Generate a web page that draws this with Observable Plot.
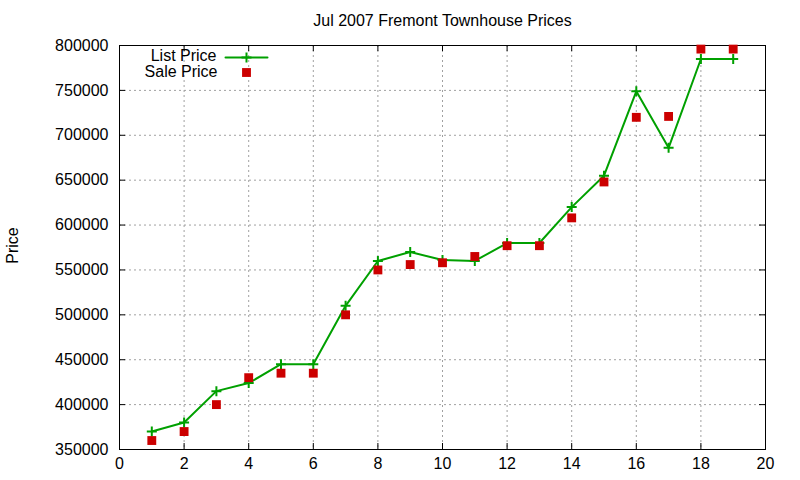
<!DOCTYPE html>
<html>
<head>
<meta charset="utf-8">
<script src="https://cdn.jsdelivr.net/npm/d3@7"></script>
<script src="https://cdn.jsdelivr.net/npm/@observablehq/plot@0.6"></script>
<style>
  html, body { margin: 0; padding: 0; background: #fff; }
  #chart svg { display: block; }
</style>
</head>
<body>
<div id="chart"></div>
<script>
const title = "Jul 2007 Fremont Townhouse Prices";
const yLabel = "Price";
const houseIndex = [1, 2, 3, 4, 5, 6, 7, 8, 9, 10, 11, 12, 13, 14, 15, 16, 17, 18, 19];
const listPrice = [370000, 380000, 415000, 424000, 445000, 445000, 510000, 560000, 570000, 561000, 560000, 580000, 580000, 620000, 655000, 749000, 686000, 785000, 785000];
const salePrice = [360000, 370000, 400000, 430000, 435000, 435000, 500000, 550000, 556000, 558000, 565000, 577000, 577000, 608000, 648000, 720000, 721000, 796000, 796000];
const xTicks = [0, 2, 4, 6, 8, 10, 12, 14, 16, 18, 20];
const yTicks = [350000, 400000, 450000, 500000, 550000, 600000, 650000, 700000, 750000, 800000];
const seriesNames = ["List Price", "Sale Price"];

const listData = houseIndex.map((x, i) => ({x, y: listPrice[i]}));
const saleData = houseIndex.map((x, i) => ({x, y: salePrice[i]}));

const green = "#00a000";
const red = "#cc0000";
const font = "'Liberation Sans', Arial, sans-serif";

const crossSymbol = {
  draw(ctx, size) {
    const r = Math.sqrt(size / Math.PI);
    ctx.moveTo(-r, 0); ctx.lineTo(r, 0);
    ctx.moveTo(0, -r); ctx.lineTo(0, r);
  }
};
const segShape = {
  draw(ctx, l) { ctx.moveTo(0, 0); ctx.lineTo(0, -l); }
};

const W = 800, H = 480, mL = 119, mR = 35, mT = 45, mB = 31;
const fw = W - mL - mR, fh = H - mT - mB;
const tk = 6;

const chart = Plot.plot({
  width: W,
  height: H,
  marginLeft: mL,
  marginRight: mR,
  marginTop: mT,
  marginBottom: mB,
  style: {fontFamily: font, fontSize: "16px", color: "#000", background: "#fff"},
  x: {domain: [0, 20]},
  y: {domain: [350000, 800000]},
  marks: [
    Plot.gridX(xTicks, {stroke: "#a0a0a0", strokeOpacity: 1, strokeDasharray: "2,3"}),
    Plot.gridY(yTicks, {stroke: "#a0a0a0", strokeOpacity: 1, strokeDasharray: "2,3"}),
    // inward tick marks on all four sides
    Plot.tickY(yTicks, {y: d => d, stroke: "#000", insetRight: fw - tk}),
    Plot.tickY(yTicks, {y: d => d, stroke: "#000", insetLeft: fw - tk}),
    Plot.tickX(xTicks, {x: d => d, stroke: "#000", insetTop: fh - tk}),
    Plot.tickX(xTicks, {x: d => d, stroke: "#000", insetBottom: fh - tk}),
    Plot.axisX(xTicks, {tickSize: 0, tickPadding: 8, label: null, fontSize: 16}),
    Plot.axisY(yTicks, {tickSize: 0, tickPadding: 11, label: null, tickFormat: "d", fontSize: 16}),
    Plot.frame({stroke: "#000", strokeWidth: 1}),
    Plot.line(listData, {x: "x", y: "y", stroke: green, strokeWidth: 2}),
    Plot.dot(listData, {x: "x", y: "y", symbol: crossSymbol, r: 5, stroke: green, strokeWidth: 2, fill: "none"}),
    Plot.dot(saleData, {x: "x", y: "y", symbol: "square", r: 5, fill: red, stroke: "none"}),
    // title
    Plot.text([title], {text: d => d, frameAnchor: "top", lineAnchor: "middle", textAnchor: "middle", dy: -25, fontSize: 16, fill: "#000"}),
    // y label
    Plot.text([yLabel], {text: d => d, frameAnchor: "left", lineAnchor: "middle", textAnchor: "middle", dx: -107, dy: -2, rotate: -90, fontSize: 16, fill: "#000"}),
    // legend
    Plot.text([seriesNames[0]], {text: d => d, frameAnchor: "top-left", lineAnchor: "middle", dx: 97, dy: 10, textAnchor: "end", fontSize: 16, fill: "#000"}),
    Plot.text([seriesNames[1]], {text: d => d, frameAnchor: "top-left", lineAnchor: "middle", dx: 98, dy: 26, textAnchor: "end", fontSize: 16, fill: "#000"}),
    Plot.vector([0], {frameAnchor: "top-left", dx: 106, dy: 12, length: 42, rotate: 90, anchor: "start", shape: segShape, stroke: green, strokeWidth: 2}),
    Plot.dot([0], {frameAnchor: "top-left", dx: 127, dy: 12, symbol: crossSymbol, r: 5, stroke: green, strokeWidth: 2, fill: "none"}),
    Plot.dot([0], {frameAnchor: "top-left", dx: 127, dy: 27, symbol: "square", r: 5, fill: red, stroke: "none"})
  ]
});
document.getElementById("chart").appendChild(chart);
</script>
</body>
</html>
